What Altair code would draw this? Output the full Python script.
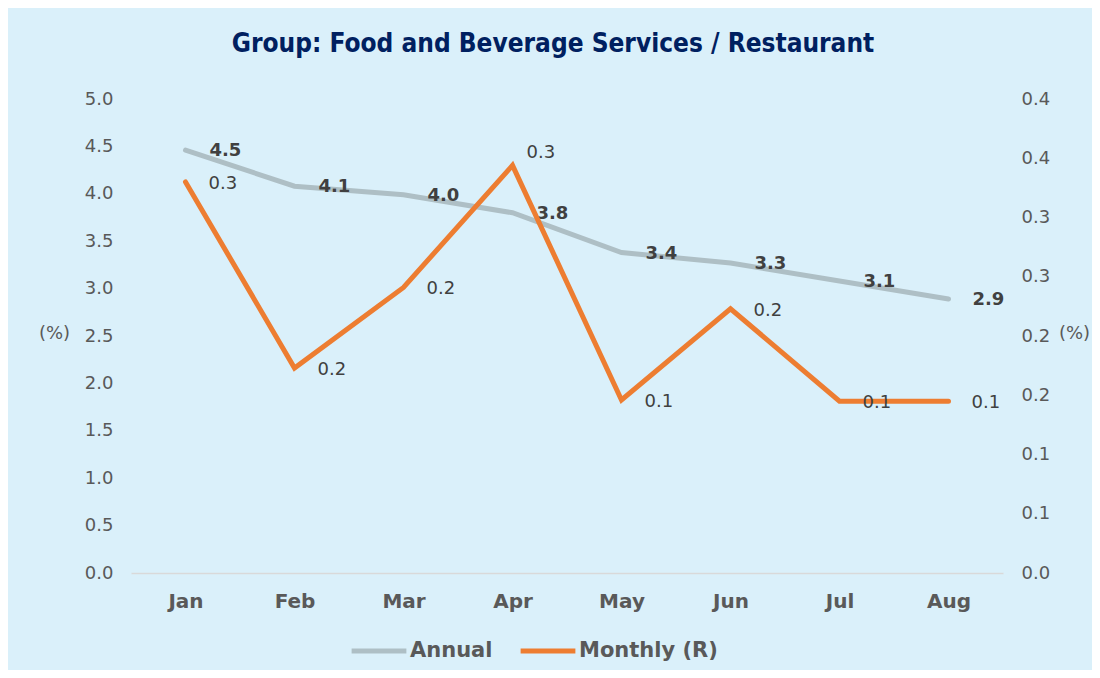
import altair as alt
import pandas as pd

months = ["Jan", "Feb", "Mar", "Apr", "May", "Jun", "Jul", "Aug"]
annual = [4.46, 4.08, 3.99, 3.80, 3.38, 3.27, 3.08, 2.89]
monthly = [0.33, 0.173, 0.241, 0.344, 0.146, 0.223, 0.145, 0.145]
series_names = ["Annual", "Monthly (R)"]
series_colors = ["#AEBFC5", "#ED7D31"]
left_ticks = [0, 0.5, 1.0, 1.5, 2.0, 2.5, 3.0, 3.5, 4.0, 4.5, 5.0]
right_ticks = [0, 0.05, 0.1, 0.15, 0.2, 0.25, 0.3, 0.35, 0.4]

FONT = "DejaVu Sans"
LABEL_C = "#595959"
TEXT_C = "#404040"

df_a = pd.DataFrame({"month": months, "value": annual, "series": series_names[0]})
df_m = pd.DataFrame({"month": months, "value": monthly, "series": series_names[1]})

x = alt.X(
    "month:N", sort=months,
    scale=alt.Scale(type="point", padding=0.5),
    axis=alt.Axis(title=None, labelFont=FONT, labelFontSize=20, labelFontWeight="bold",
                  labelColor=LABEL_C, labelPadding=18, labelAngle=0, ticks=False,
                  domainColor="#D9D9D9", domainWidth=1.5, grid=False),
)

left_axis = alt.Axis(orient="left", values=left_ticks, format=".1f", title="(%)",
                     titleAngle=0, titleX=-77, titleY=234, titleAlign="center",
                     titleBaseline="middle", titleFont=FONT, titleFontSize=18,
                     titleFontWeight="normal", titleColor=LABEL_C,
                     labelFont=FONT, labelFontSize=18, labelColor=LABEL_C, labelPadding=18,
                     domain=False, ticks=False, grid=False)
right_axis = alt.Axis(orient="right", values=right_ticks,
                      labelExpr="format(round(datum.value*10+0.000001)/10, '.1f')",
                      title="(%)", titleAngle=0, titleX=71, titleY=234, titleAlign="center",
                      titleBaseline="middle", titleFont=FONT, titleFontSize=18,
                      titleFontWeight="normal", titleColor=LABEL_C,
                      labelFont=FONT, labelFontSize=18, labelColor=LABEL_C, labelPadding=18,
                      domain=False, ticks=False, grid=False)

ya = alt.Y("value:Q", scale=alt.Scale(domain=[0, 5], nice=False), axis=left_axis)
ym = alt.Y("value:Q", scale=alt.Scale(domain=[0, 0.4], nice=False), axis=right_axis)
color = alt.Color("series:N", scale=alt.Scale(domain=series_names, range=series_colors),
                  legend=alt.Legend(title=None))

a_line = alt.Chart(df_a).mark_line(strokeWidth=5, strokeCap="round").encode(x=x, y=ya, color=color)
a_text = alt.Chart(df_a).mark_text(align="left", dx=24, dy=1, font=FONT, fontSize=18,
                                   fontWeight="bold", color=TEXT_C).encode(
    x=x, y=ya, text=alt.Text("value:Q", format=".1f"))

m_line = alt.Chart(df_m).mark_line(strokeWidth=5, strokeCap="round").encode(x=x, y=ym, color=color)
m_text = alt.Chart(df_m).transform_filter(alt.datum.month != "Apr").mark_text(
    align="left", dx=23, dy=2, font=FONT, fontSize=18, color=TEXT_C).encode(
    x=x, y=ym, text=alt.Text("value:Q", format=".1f"))
m_text_apr = alt.Chart(df_m).transform_filter(alt.datum.month == "Apr").mark_text(
    align="left", dx=14, dy=-12, font=FONT, fontSize=18, color=TEXT_C).encode(
    x=x, y=ym, text=alt.Text("value:Q", format=".1f"))

chart = alt.layer(
    alt.layer(a_line, a_text),
    alt.layer(m_line, m_text, m_text_apr),
).resolve_scale(y="independent").properties(
    width=872, height=474,
    padding={"left": 123, "top": 91, "right": 89, "bottom": 97},
    autosize=alt.AutoSizeParams(type="none"),
    title=alt.Title("Group: Food and Beverage Services / Restaurant",
                    font="DejaVu Sans Condensed", fontSize=26, fontWeight="bold",
                    color="#002060", anchor="middle", offset=33, dx=-14),
).configure(background="#DAF0FA").configure_view(stroke=None).configure_legend(
    orient="none", legendX=218, legendY=522, direction="horizontal",
    symbolType="stroke", symbolSize=3000, symbolStrokeWidth=5,
    labelFont=FONT, labelFontSize=21, labelFontWeight="bold", labelColor=LABEL_C,
    columnPadding=17, labelOffset=1,
)

chart.save("out.html", embed_options={"renderer": "svg", "actions": False})
